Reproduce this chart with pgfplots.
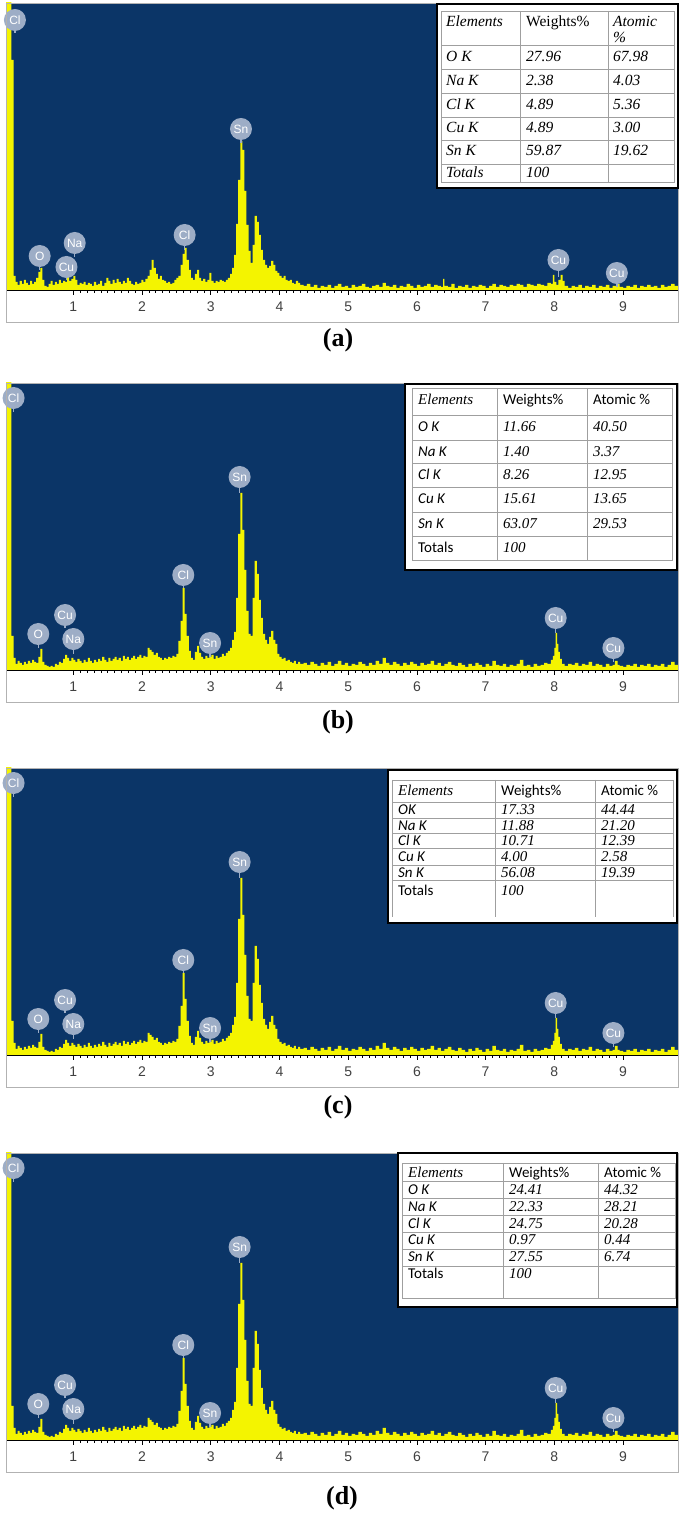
\documentclass[border=0pt]{standalone}
\usepackage{pgfplots}
\pgfplotsset{compat=1.18}
\usepackage{pgfplotstable}
\usepackage{fontspec}
\setmainfont{Liberation Serif}
\setsansfont{Liberation Sans}
\newfontfamily\calibri{Carlito}

\definecolor{edsblue}{HTML}{0B3567}
\definecolor{edsyellow}{HTML}{F4F400}
\definecolor{tagcol}{HTML}{9DADC6}

% spectrum (a), heights in screen units above the baseline
\pgfplotstableread[row sep=\\]{
x y\\
0.02 300\\ 0.10 230\\ 0.13 14\\ 0.16 8\\ 0.19 5\\ 0.22 9\\ 0.25 6\\ 0.28 10\\ 0.31 7\\ 0.34 5\\
0.37 9\\ 0.40 6\\ 0.43 8\\ 0.46 12\\ 0.49 18\\ 0.52 22\\ 0.55 10\\ 0.58 4\\ 0.61 3\\ 0.64 6\\
0.67 9\\ 0.70 5\\ 0.73 8\\ 0.76 6\\ 0.79 10\\ 0.82 7\\ 0.85 9\\ 0.88 8\\ 0.91 13\\ 0.94 9\\
0.97 11\\ 1.00 14\\ 1.03 10\\ 1.06 5\\ 1.09 7\\ 1.12 6\\ 1.15 8\\ 1.18 5\\ 1.21 7\\ 1.24 6\\
1.27 4\\ 1.30 8\\ 1.33 5\\ 1.36 6\\ 1.39 9\\ 1.42 4\\ 1.45 7\\ 1.48 12\\ 1.51 9\\ 1.54 6\\
1.57 10\\ 1.60 7\\ 1.63 11\\ 1.66 8\\ 1.69 6\\ 1.72 9\\ 1.75 7\\ 1.78 12\\ 1.81 9\\ 1.84 6\\
1.87 5\\ 1.90 8\\ 1.93 6\\ 1.96 7\\ 1.99 10\\ 2.02 8\\ 2.05 11\\ 2.08 14\\ 2.11 20\\ 2.14 30\\
2.17 22\\ 2.20 16\\ 2.23 11\\ 2.26 14\\ 2.29 10\\ 2.32 9\\ 2.35 7\\ 2.38 8\\ 2.41 6\\ 2.44 7\\
2.47 10\\ 2.50 12\\ 2.53 14\\ 2.56 25\\ 2.59 36\\ 2.62 42\\ 2.65 30\\ 2.68 20\\ 2.71 12\\ 2.74 10\\
2.77 16\\ 2.80 20\\ 2.83 12\\ 2.86 9\\ 2.89 11\\ 2.92 8\\ 2.95 10\\ 2.98 17\\ 3.01 9\\ 3.04 7\\
3.07 9\\ 3.10 8\\ 3.13 10\\ 3.16 9\\ 3.19 8\\ 3.22 10\\ 3.25 12\\ 3.28 16\\ 3.31 22\\ 3.34 35\\
3.37 66\\ 3.40 110\\ 3.43 149\\ 3.46 140\\ 3.49 99\\ 3.52 65\\ 3.55 39\\ 3.58 27\\ 3.61 45\\ 3.64 74\\
3.67 68\\ 3.70 55\\ 3.73 40\\ 3.76 30\\ 3.79 25\\ 3.82 22\\ 3.85 24\\ 3.88 29\\ 3.91 25\\ 3.94 19\\
3.97 17\\ 4.00 14\\ 4.03 12\\ 4.06 14\\ 4.09 10\\ 4.12 9\\ 4.15 10\\ 4.18 7\\ 4.21 6\\ 4.24 9\\
4.27 7\\ 4.30 5\\ 4.35 4\\ 4.40 6\\ 4.45 3\\ 4.50 5\\ 4.55 2\\ 4.60 4\\ 4.65 3\\ 4.70 5\\
4.75 2\\ 4.80 4\\ 4.85 6\\ 4.90 3\\ 4.95 4\\ 5.00 2\\ 5.05 5\\ 5.10 3\\ 5.15 4\\ 5.20 6\\
5.25 3\\ 5.30 2\\ 5.35 4\\ 5.40 5\\ 5.45 3\\ 5.50 7\\ 5.55 4\\ 5.60 3\\ 5.65 5\\ 5.70 2\\
5.75 4\\ 5.80 3\\ 5.85 6\\ 5.90 4\\ 5.95 2\\ 6.00 5\\ 6.05 3\\ 6.10 4\\ 6.15 6\\ 6.20 3\\
6.25 5\\ 6.30 4\\ 6.35 3\\ 6.38 11\\ 6.40 4\\ 6.45 3\\ 6.50 6\\ 6.55 2\\ 6.60 4\\ 6.65 3\\
6.70 5\\ 6.75 2\\ 6.80 4\\ 6.85 3\\ 6.90 5\\ 6.95 4\\ 7.00 2\\ 7.05 4\\ 7.10 6\\ 7.15 3\\
7.20 5\\ 7.25 4\\ 7.30 3\\ 7.35 5\\ 7.40 4\\ 7.45 6\\ 7.50 5\\ 7.55 3\\ 7.60 6\\ 7.65 5\\
7.70 4\\ 7.75 6\\ 7.80 5\\ 7.85 4\\ 7.90 7\\ 7.95 6\\ 7.98 15\\ 8.00 8\\ 8.03 5\\ 8.06 10\\
8.09 15\\ 8.12 9\\ 8.15 4\\ 8.20 2\\ 8.25 4\\ 8.30 3\\ 8.35 5\\ 8.40 2\\ 8.45 4\\ 8.50 3\\
8.55 5\\ 8.60 2\\ 8.65 4\\ 8.70 3\\ 8.75 5\\ 8.80 2\\ 8.85 4\\ 8.90 6\\ 8.95 3\\ 9.00 2\\
9.05 4\\ 9.10 3\\ 9.15 5\\ 9.20 2\\ 9.25 4\\ 9.30 3\\ 9.35 5\\ 9.40 3\\ 9.45 4\\ 9.50 2\\
9.55 5\\ 9.60 3\\ 9.65 4\\ 9.70 6\\ 9.75 4\\ 9.80 4\\
}\specA

% spectrum (b), (c), (d)
\pgfplotstableread[row sep=\\]{
x y\\
0.02 300\\ 0.10 34\\ 0.13 12\\ 0.16 6\\ 0.19 9\\ 0.22 7\\ 0.25 5\\ 0.28 8\\ 0.31 6\\ 0.34 9\\
0.37 7\\ 0.40 10\\ 0.43 8\\ 0.46 7\\ 0.49 13\\ 0.52 21\\ 0.55 8\\ 0.58 5\\ 0.61 4\\ 0.64 3\\
0.67 4\\ 0.70 3\\ 0.73 6\\ 0.76 5\\ 0.79 8\\ 0.82 7\\ 0.85 11\\ 0.88 15\\ 0.91 12\\ 0.94 9\\
0.97 12\\ 1.00 10\\ 1.03 8\\ 1.06 11\\ 1.09 9\\ 1.12 7\\ 1.15 10\\ 1.18 8\\ 1.21 12\\ 1.24 9\\
1.27 7\\ 1.30 10\\ 1.33 8\\ 1.36 11\\ 1.39 9\\ 1.42 13\\ 1.45 10\\ 1.48 8\\ 1.51 12\\ 1.54 9\\
1.57 11\\ 1.60 13\\ 1.63 10\\ 1.66 12\\ 1.69 9\\ 1.72 14\\ 1.75 11\\ 1.78 13\\ 1.81 10\\ 1.84 12\\
1.87 14\\ 1.90 11\\ 1.93 13\\ 1.96 15\\ 1.99 12\\ 2.02 14\\ 2.05 13\\ 2.08 22\\ 2.11 20\\ 2.14 18\\
2.17 15\\ 2.20 17\\ 2.23 13\\ 2.26 12\\ 2.29 10\\ 2.32 12\\ 2.35 11\\ 2.38 13\\ 2.41 12\\ 2.44 14\\
2.47 13\\ 2.50 16\\ 2.53 29\\ 2.56 49\\ 2.59 82\\ 2.62 56\\ 2.65 34\\ 2.68 19\\ 2.71 12\\ 2.74 10\\
2.77 18\\ 2.80 24\\ 2.83 17\\ 2.86 13\\ 2.89 11\\ 2.92 14\\ 2.95 12\\ 2.98 13\\ 3.01 15\\ 3.04 11\\
3.07 14\\ 3.10 12\\ 3.13 13\\ 3.16 16\\ 3.19 14\\ 3.22 17\\ 3.25 19\\ 3.28 22\\ 3.31 30\\ 3.34 38\\
3.37 72\\ 3.40 136\\ 3.43 177\\ 3.46 140\\ 3.49 100\\ 3.52 59\\ 3.55 36\\ 3.58 34\\ 3.61 72\\ 3.64 109\\
3.67 96\\ 3.70 70\\ 3.73 52\\ 3.76 36\\ 3.79 30\\ 3.82 26\\ 3.85 33\\ 3.88 39\\ 3.91 30\\ 3.94 26\\
3.97 16\\ 4.00 13\\ 4.03 11\\ 4.06 12\\ 4.09 9\\ 4.12 10\\ 4.15 8\\ 4.18 7\\ 4.21 9\\ 4.24 6\\
4.27 8\\ 4.30 6\\ 4.35 7\\ 4.40 5\\ 4.45 8\\ 4.50 6\\ 4.55 4\\ 4.60 7\\ 4.65 5\\ 4.70 8\\
4.75 4\\ 4.80 6\\ 4.85 9\\ 4.90 5\\ 4.95 7\\ 5.00 4\\ 5.05 6\\ 5.10 5\\ 5.15 8\\ 5.20 6\\
5.25 4\\ 5.30 7\\ 5.35 5\\ 5.40 9\\ 5.45 6\\ 5.50 12\\ 5.55 7\\ 5.60 5\\ 5.65 8\\ 5.70 6\\
5.75 4\\ 5.80 7\\ 5.85 5\\ 5.90 8\\ 5.95 6\\ 6.00 4\\ 6.05 7\\ 6.10 5\\ 6.15 6\\ 6.20 9\\
6.25 5\\ 6.30 7\\ 6.35 4\\ 6.40 6\\ 6.45 8\\ 6.50 5\\ 6.55 4\\ 6.60 7\\ 6.65 5\\ 6.70 3\\
6.75 6\\ 6.80 4\\ 6.85 7\\ 6.90 5\\ 6.95 3\\ 7.00 6\\ 7.05 4\\ 7.10 9\\ 7.15 5\\ 7.20 4\\
7.25 6\\ 7.30 3\\ 7.35 5\\ 7.40 4\\ 7.45 6\\ 7.50 10\\ 7.55 4\\ 7.60 5\\ 7.65 3\\ 7.70 6\\
7.75 4\\ 7.80 5\\ 7.85 7\\ 7.90 6\\ 7.95 10\\ 7.98 14\\ 8.00 22\\ 8.02 37\\ 8.04 26\\ 8.06 18\\
8.08 11\\ 8.11 6\\ 8.15 4\\ 8.20 6\\ 8.25 5\\ 8.30 7\\ 8.35 4\\ 8.40 6\\ 8.45 5\\ 8.50 8\\
8.55 4\\ 8.60 6\\ 8.65 5\\ 8.70 3\\ 8.75 6\\ 8.80 4\\ 8.85 5\\ 8.88 9\\ 8.92 5\\ 8.95 4\\
9.00 3\\ 9.05 5\\ 9.10 4\\ 9.15 6\\ 9.20 3\\ 9.25 5\\ 9.30 4\\ 9.35 6\\ 9.40 3\\ 9.45 5\\
9.50 4\\ 9.55 6\\ 9.60 3\\ 9.65 5\\ 9.70 8\\ 9.75 5\\ 9.80 5\\
}\specB

\pgfplotsset{
  eds/.style={
    scale only axis, width=672pt, height=287pt,
    xmin=0.02, xmax=9.8, ymin=0, ymax=287,
    axis background/.style={fill=edsblue},
    axis x line*=bottom, axis y line=none,
    x axis line style={black, line width=0.8pt},
    xtick={1,...,9}, minor x tick num=9,
    tick align=outside, major tick length=5pt, minor tick length=3pt,
    every tick/.style={black, line width=0.6pt},
    /pgf/number format/assume math mode=true,
    xticklabel style={font=\sffamily\fontsize{14}{14}\selectfont, text=black!75, inner sep=0pt, anchor=north},
    xticklabel shift=7pt,
    clip mode=individual,
  },
  spec/.style={const plot, fill=edsyellow, draw=none},
}

% element tag: x, circle height, peak height, text
\newcommand{\tag}[4]{%
  \draw[tagcol, line width=1.4pt] (axis cs:#1,#3) -- (axis cs:#1,#2);
  \node[circle, fill=tagcol, text=white, minimum size=22pt, inner sep=0pt,
        font=\sffamily\fontsize{12}{12}\selectfont] at (axis cs:#1,#2) {#4};}

\newcommand{\tagsB}{%
  \tag{0.13}{272}{258}{Cl}
  \tag{0.49}{36}{22}{O}
  \tag{0.88}{55}{42}{Cu}
  \tag{1.00}{31}{16}{Na}
  \tag{2.60}{95}{82}{Cl}
  \tag{2.99}{27}{13}{Sn}
  \tag{3.42}{193}{177}{Sn}
  \tag{8.02}{52}{37}{Cu}
  \tag{8.86}{22}{8}{Cu}}

\begin{document}
\begin{tikzpicture}
\useasboundingbox (0,0) rectangle (685pt,1515pt);

\begin{axis}[eds, at={(6pt,1225pt)}, anchor=south west]
\addplot[spec] table[x=x,y=y] {\specA} \closedcycle;
\tag{0.15}{270}{257}{Cl}
\tag{0.51}{34}{20}{O}
\tag{0.90}{23}{10}{Cu}
\tag{1.02}{47}{33}{Na}
\tag{2.62}{55}{40}{Cl}
\tag{3.44}{161}{147}{Sn}
\tag{8.06}{30}{13}{Cu}
\tag{8.91}{17}{3}{Cu}
\end{axis}

\begin{axis}[eds, at={(6pt,845pt)}, anchor=south west]
\addplot[spec] table[x=x,y=y] {\specB} \closedcycle;
\tagsB
\end{axis}

\begin{axis}[eds, at={(6pt,460pt)}, anchor=south west]
\addplot[spec] table[x=x,y=y] {\specB} \closedcycle;
\tagsB
\end{axis}

\begin{axis}[eds, at={(6pt,75pt)}, anchor=south west]
\addplot[spec] table[x=x,y=y] {\specB} \closedcycle;
\tagsB
\end{axis}

% frames, tables and panel letters in screen units from the top
\begin{scope}[x=1pt, y=-1pt, yshift=1515pt,
  TI/.style={anchor=base west, inner sep=0pt, font=\fontsize{15.5}{15.5}\selectfont\itshape},
  TR/.style={anchor=base west, inner sep=0pt, font=\fontsize{15.5}{15.5}\selectfont},
  ti/.style={anchor=base west, inner sep=0pt, font=\fontsize{15}{15}\selectfont\itshape},
  ci/.style={anchor=base west, inner sep=0pt, font=\calibri\fontsize{15}{15}\selectfont\itshape},
  cu/.style={anchor=base west, inner sep=0pt, font=\calibri\fontsize{15}{15}\selectfont},
  grid/.style={gray!75, line width=0.7pt},
  lbl/.style={font=\bfseries\fontsize{26}{26}\selectfont}]

\foreach \t/\b in {3/322, 383/702, 768/1087, 1153/1472}
  \draw[gray!60, line width=0.6pt] (6,\t) rectangle (678,\b);

% table (a)
\draw[line width=1.6pt, fill=white] (437,4) rectangle (678,188);
\draw[grid] (441,11) rectangle (674,182) (520,11) -- (520,182) (608,11) -- (608,182);
\foreach \r in {45,69,93,117,140,164} \draw[grid] (441,\r) -- (674,\r);
\node[TI] at (446,27) {Elements};
\node[TR] at (526,27) {Weights\%};
\node[TI] at (613,27) {Atomic};
\node[TI] at (613,43) {\%};
\foreach \yy/\a/\b/\c in {62/O K/27.96/67.98, 86/Na K/2.38/4.03, 110/Cl K/4.89/5.36,
    133/Cu K/4.89/3.00, 156/Sn K/59.87/19.62, 178/Totals/100/}
  {\node[TI] at (446,\yy) {\a}; \node[TI] at (526,\yy) {\b}; \node[TI] at (613,\yy) {\c};}

% table (b)
\draw[line width=1.6pt, fill=white] (405,384) rectangle (677,570);
\draw[grid] (412,388) rectangle (672,560) (497,388) -- (497,560) (587,388) -- (587,560);
\foreach \r in {415,440,463,487,512,536} \draw[grid] (412,\r) -- (672,\r);
\node[ti] at (418,405) {Elements};
\node[cu] at (503,405) {Weights\%};
\node[cu] at (593,405) {Atomic \%};
\foreach \yy/\a/\b/\c in {432/O K/11.66/40.50, 457/Na K/1.40/3.37, 480/Cl K/8.26/12.95,
    504/Cu K/15.61/13.65, 529/Sn K/63.07/29.53}
  {\node[ci] at (418,\yy) {\a}; \node[ti] at (503,\yy) {\b}; \node[ti] at (593,\yy) {\c};}
\node[cu] at (418,553) {Totals}; \node[ti] at (503,553) {100};

% table (c)
\draw[line width=1.6pt, fill=white] (388,770) rectangle (677,923);
\draw[grid] (392,780) -- (673,780) (392,780) -- (392,917) (495,780) -- (495,917)
  (595,780) -- (595,917) (673,780) -- (673,917);
\foreach \r in {802,818,833,848,865,880} \draw[grid] (392,\r) -- (673,\r);
\node[ti] at (398,796) {Elements};
\node[cu] at (501,796) {Weights\%};
\node[cu] at (601,796) {Atomic \%};
\foreach \yy/\a/\b/\c in {815/OK/17.33/44.44, 831/Na K/11.88/21.20, 846/Cl K/10.71/12.39,
    862/Cu K/4.00/2.58, 878/Sn K/56.08/19.39}
  {\node[ci] at (398,\yy) {\a}; \node[ti] at (501,\yy) {\b}; \node[ti] at (601,\yy) {\c};}
\node[cu] at (398,896) {Totals}; \node[ti] at (501,896) {100};

% table (d)
\draw[line width=1.6pt, fill=white] (398,1153) rectangle (677,1307);
\draw[grid] (402,1163) rectangle (675,1298) (503,1163) -- (503,1298) (598,1163) -- (598,1298);
\foreach \r in {1181,1198,1215,1232,1249,1266} \draw[grid] (402,\r) -- (675,\r);
\node[ti] at (408,1178) {Elements};
\node[cu] at (509,1178) {Weights\%};
\node[cu] at (604,1178) {Atomic \%};
\foreach \yy/\a/\b/\c in {1195/O K/24.41/44.32, 1212/Na K/22.33/28.21, 1229/Cl K/24.75/20.28,
    1245/Cu K/0.97/0.44, 1262/Sn K/27.55/6.74}
  {\node[ci] at (408,\yy) {\a}; \node[ti] at (509,\yy) {\b}; \node[ti] at (604,\yy) {\c};}
\node[cu] at (408,1279) {Totals}; \node[ti] at (509,1279) {100};

\node[lbl] at (338,340) {(a)};
\node[lbl] at (338,722) {(b)};
\node[lbl] at (338,1107) {(c)};
\node[lbl] at (342,1498) {(d)};
\end{scope}
\end{tikzpicture}
\end{document}
